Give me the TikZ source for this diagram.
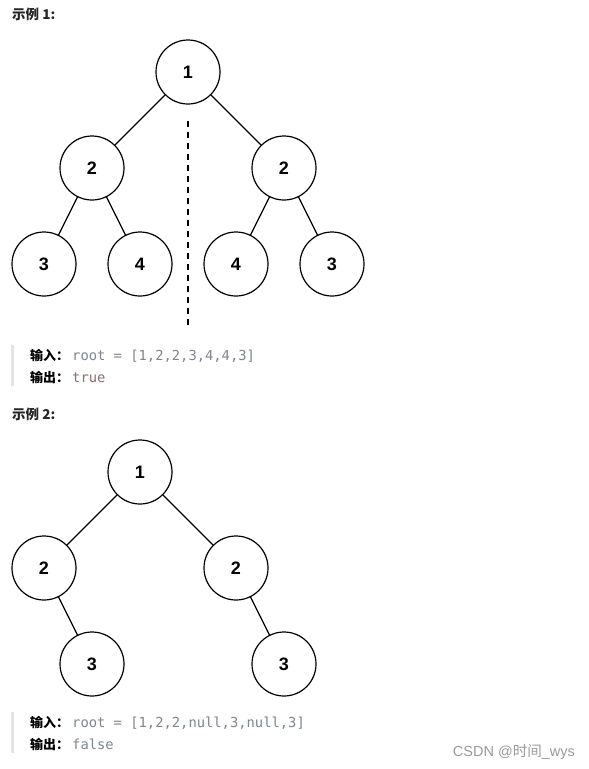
\documentclass[tikz,border=0pt]{standalone}
\usepackage{fontspec}
\setmainfont{Liberation Sans}
\newfontfamily\cjk{Noto Sans CJK SC}
\newfontfamily\codefont{DejaVu Sans Mono}
\definecolor{codegray}{HTML}{7D8590}
\definecolor{valcol}{HTML}{8C6E6E}
\definecolor{barcol}{HTML}{E3E3E3}
\definecolor{wmk}{HTML}{9A9A9A}
\tikzset{
  tnode/.style={circle, draw, line width=1.2pt, minimum size=64pt, inner sep=0pt, font=\fontsize{18}{18}\selectfont\bfseries},
  tedge/.style={line width=1.2pt},
  lbl/.style={anchor=west, inner sep=0pt, font=\cjk\fontsize{13.5}{13.5}\selectfont\bfseries, text=black!85},
  codeline/.style={anchor=west, inner sep=0pt, font=\fontsize{13}{13}\selectfont},
}
\begin{document}
\begin{tikzpicture}[x=1pt,y=-1pt]
\useasboundingbox (0,0) rectangle (589,769);
\fill[white] (0,0) rectangle (589,769);
% Example 1
\node[lbl] (t1) at (12,14) {示例 1:};
\node[tnode] (a1) at (188,72) {1};
\node[tnode] (a2) at (92,168) {2};
\node[tnode] (a3) at (284,168) {2};
\node[tnode] (a4) at (44,264) {3};
\node[tnode] (a5) at (140,264) {4};
\node[tnode] (a6) at (236,264) {4};
\node[tnode] (a7) at (332,264) {3};
\draw[tedge] (a1) -- (a2);
\draw[tedge] (a1) -- (a3);
\draw[tedge] (a2) -- (a4);
\draw[tedge] (a2) -- (a5);
\draw[tedge] (a3) -- (a6);
\draw[tedge] (a3) -- (a7);
\coordinate (d1) at (188,121);
\coordinate (d2) at (188,329);
\draw[line width=2.6pt, dash pattern=on 6pt off 5pt] (d1) -- (d2);
\fill[barcol] (11,345) rectangle (14,386);
\node[codeline] (in1) at (30,356) {{\cjk\bfseries 输入：}\hspace{3pt}{\codefont\fontsize{13.8}{14}\selectfont\color{codegray}root = [1,2,2,3,4,4,3]}};
\node[codeline] (out1) at (30,377) {{\cjk\bfseries 输出：}\hspace{3pt}{\codefont\fontsize{13.8}{14}\selectfont\color{valcol}true}};
% Example 2
\node[lbl] (t2) at (12,414) {示例 2:};
\node[tnode] (b1) at (140,472) {1};
\node[tnode] (b2) at (44,568) {2};
\node[tnode] (b3) at (236,568) {2};
\node[tnode] (b4) at (92,664) {3};
\node[tnode] (b5) at (284,664) {3};
\draw[tedge] (b1) -- (b2);
\draw[tedge] (b1) -- (b3);
\draw[tedge] (b2) -- (b4);
\draw[tedge] (b3) -- (b5);
\fill[barcol] (11,712) rectangle (14,753);
\node[codeline] (in2) at (30,723) {{\cjk\bfseries 输入：}\hspace{3pt}{\codefont\fontsize{13.8}{14}\selectfont\color{codegray}root = [1,2,2,null,3,null,3]}};
\node[codeline] (out2) at (30,744) {{\cjk\bfseries 输出：}\hspace{3pt}{\codefont\fontsize{13.8}{14}\selectfont\color{codegray}false}};
\node[anchor=east, inner sep=0pt, text=wmk, font=\fontsize{14.5}{14.5}\selectfont] (wm) at (575,752) {CSDN @{\cjk 时间}\_wys};
\end{tikzpicture}
\end{document}
